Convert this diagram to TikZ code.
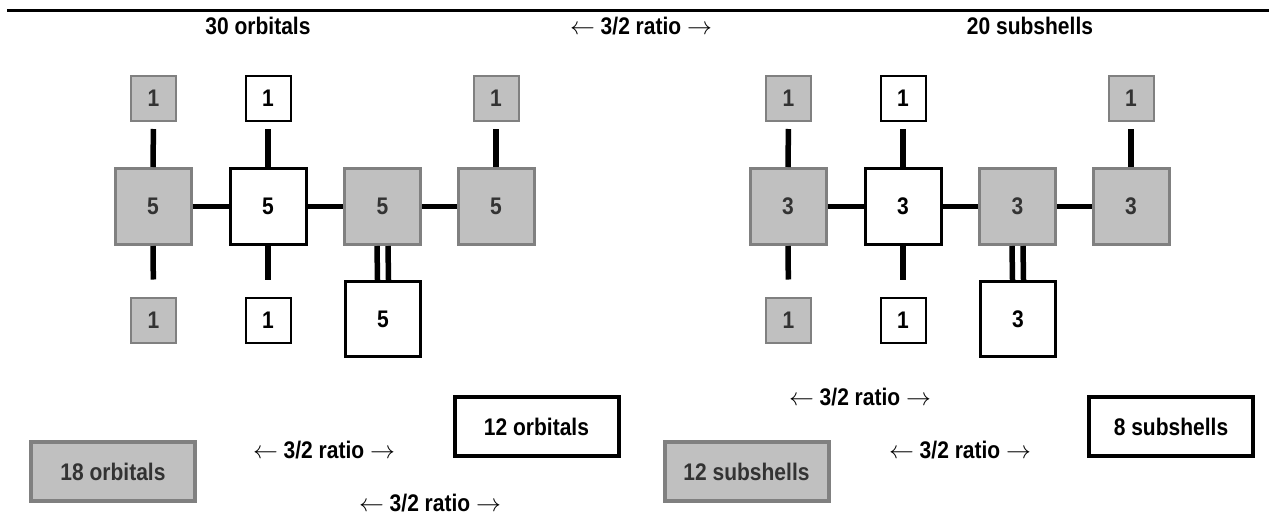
\documentclass[tikz,border=0pt]{standalone}
\usepackage{fontspec}
\setmainfont{Liberation Sans}[FakeStretch=0.875]
\definecolor{boxgray}{HTML}{C0C0C0}
\definecolor{bordgray}{HTML}{808080}
\definecolor{txtgray}{HTML}{333333}
\begin{document}
\begin{tikzpicture}[x=1pt,y=-1pt,
  lbl/.style={font=\bfseries\fontsize{24}{28}\selectfont, inner sep=0pt},
  gbig/.style={lbl, draw=bordgray, fill=boxgray, text=txtgray, line width=3pt, minimum size=76pt},
  wbig/.style={lbl, draw=black, fill=white, text=black, line width=3pt, minimum size=76pt},
  wbot/.style={lbl, draw=black, fill=white, text=black, line width=3pt, minimum size=75pt},
  gsmall/.style={lbl, draw=bordgray, fill=boxgray, text=txtgray, line width=2pt, minimum size=45pt},
  wsmall/.style={lbl, draw=black, fill=white, text=black, line width=2pt, minimum size=45pt},
  gsum/.style={lbl, draw=bordgray, fill=boxgray, text=txtgray, line width=4pt, minimum width=164pt, minimum height=59pt},
  wsum/.style={lbl, draw=black, fill=white, text=black, line width=4pt, minimum width=164pt, minimum height=59pt},
  conn/.style={line width=5.5pt, black},
  rule/.style={line width=3pt, black}
]
\useasboundingbox (0,0) rectangle (1269,517);

% top rule
\coordinate (ruleL) at (7,10.5);
\coordinate (ruleR) at (1269,10.5);
\draw[rule] (ruleL) -- (ruleR);

% titles
\node[lbl] (title1) at (258,26) {30 orbitals};
\node[lbl] (title2) at (641,26) {$\leftarrow$ 3/2 ratio $\rightarrow$};
\node[lbl] (title3) at (1030,26) {20 subshells};

% diagrams
\foreach \dx/\n/\p in {0/5/L, 635/3/R} {
  \begin{scope}[xshift=\dx pt]
    \node[gsmall] (\p t1) at (153.5,98.5) {1};
    \node[wsmall] (\p t2) at (268,98.5) {1};
    \node[gsmall] (\p t3) at (496,98.5) {1};
    \node[gbig] (\p b1) at (153,206.5) {\n};
    \node[wbig] (\p b2) at (268,206.5) {\n};
    \node[gbig] (\p b3) at (382.5,206.5) {\n};
    \node[gbig] (\p b4) at (496,206.5) {\n};
    \node[gsmall] (\p s1) at (153.5,320) {1};
    \node[wsmall] (\p s2) at (268,320) {1};
    \node[wbot] (\p b5) at (383,319) {\n};
    \draw[conn, shorten <=7pt] (\p t1.south) -- (\p b1.north);
    \draw[conn, shorten <=7pt] (\p t2.south) -- (\p b2.north);
    \draw[conn, shorten <=7pt] (\p t3.south) -- (\p b4.north);
    \draw[conn] (\p b1.east) -- (\p b2.west);
    \draw[conn] (\p b2.east) -- (\p b3.west);
    \draw[conn] (\p b3.east) -- (\p b4.west);
    \draw[conn, shorten >=17pt] (\p b1.south) -- (\p s1.north);
    \draw[conn, shorten >=17pt] (\p b2.south) -- (\p s2.north);
    \draw[conn] ([xshift=-5.5pt]\p b3.south) -- ([xshift=-5.5pt]\p b5.north);
    \draw[conn] ([xshift=5.5pt]\p b3.south) -- ([xshift=5.5pt]\p b5.north);
  \end{scope}
}

% bottom summary
\node[gsum] (sum18) at (113,471.5) {18 orbitals};
\node[wsum] (sum12o) at (536.5,426.5) {12 orbitals};
\node[gsum] (sum12s) at (746.5,471.5) {12 subshells};
\node[wsum] (sum8) at (1171,426.5) {8 subshells};

\node[lbl] (ratioA) at (324,450) {$\leftarrow$ 3/2 ratio $\rightarrow$};
\node[lbl] (ratioB) at (430,503) {$\leftarrow$ 3/2 ratio $\rightarrow$};
\node[lbl] (ratioC) at (860,397) {$\leftarrow$ 3/2 ratio $\rightarrow$};
\node[lbl] (ratioD) at (960,450) {$\leftarrow$ 3/2 ratio $\rightarrow$};
\end{tikzpicture}
\end{document}
